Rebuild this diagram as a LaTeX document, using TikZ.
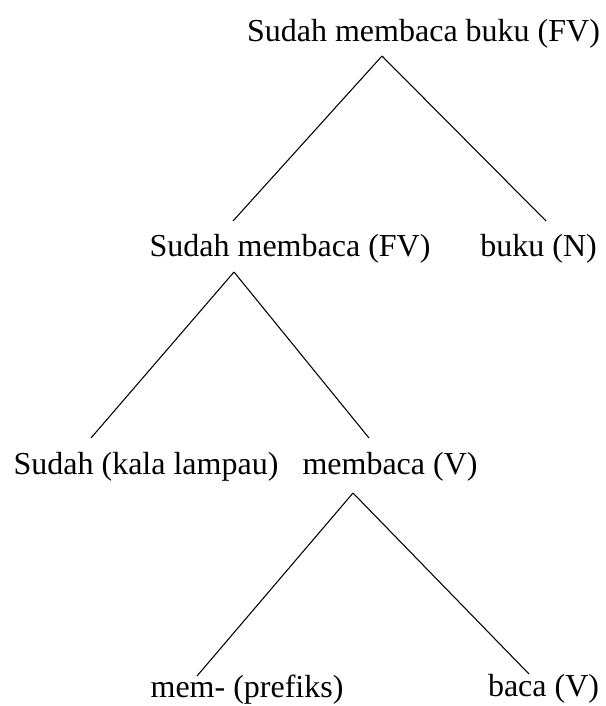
\documentclass[tikz,border=0pt]{standalone}
\usepackage{fontspec}
\setmainfont{Liberation Serif}
\usetikzlibrary{arrows}

\begin{document}
\begin{tikzpicture}[
		x=0.75pt, y=-0.75pt,
		node distance=5.5cm,
		word/.style={inner sep=0pt, font=\fontsize{24}{28}\selectfont},
		branch/.style={line width=0.8pt}
		]
		\useasboundingbox (0,0) rectangle (606,706);
		
		\node[word, anchor=base](R) at (423.5,42){Sudah membaca buku (FV)};
		
		\node[word, below of = R, xshift = -100.1pt, yshift = -4.75pt](A){Sudah membaca (FV)};
		\node[word, right of = A, xshift = 29.9pt](B){buku (N)};
		\node[word, below of = A, xshift = -108pt, yshift = -7pt](C){Sudah (kala lampau)};
		\node[word, right of = C, xshift = 26.5pt](D){membaca (V)};
		\node[word, below of = D, xshift = -107.25pt, yshift = -10pt](E){mem- (prefiks)};
		\node[word, right of = E, xshift = 65.9pt](F){baca (V)};
		
		% ends of the branches
		\coordinate (R-foot) at (382,56);
		\coordinate (A-top) at (233,221);
		\coordinate (B-top) at (546,221);
		\coordinate (A-foot) at (234,272);
		\coordinate (C-top) at (91,438);
		\coordinate (D-top) at (369,438);
		\coordinate (D-foot) at (353,493);
		\coordinate (E-top) at (197,676);
		\coordinate (F-top) at (529,674);
		
		\draw[branch] (R-foot) -- (A-top);
		\draw[branch] (R-foot) -- (B-top);
		\draw[branch] (A-foot) -- (C-top);
		\draw[branch] (A-foot) -- (D-top);
		\draw[branch] (D-foot) -- (E-top);
		\draw[branch] (D-foot) -- (F-top);

	\end{tikzpicture}
\end{document}
